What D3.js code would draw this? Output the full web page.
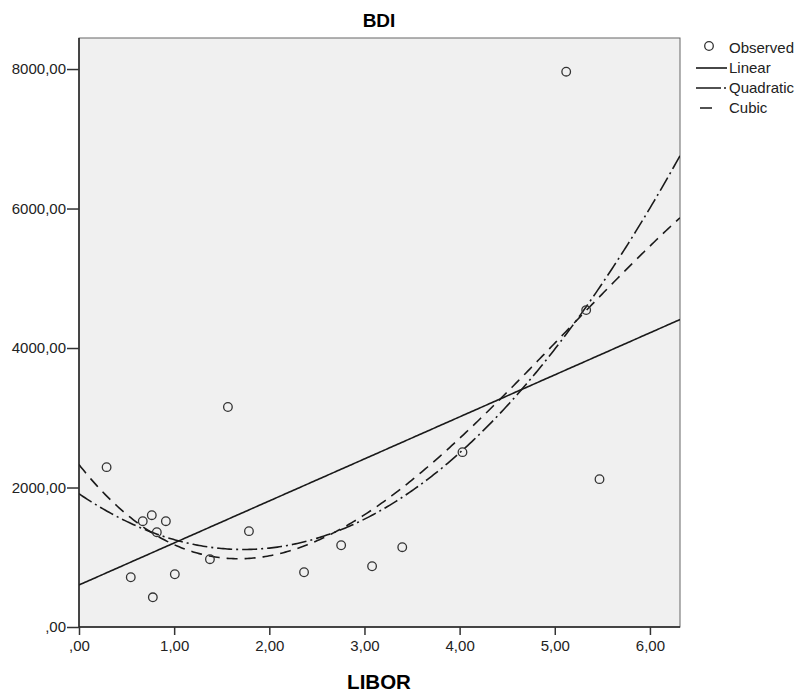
<!DOCTYPE html>
<html>
<head>
<meta charset="utf-8">
<script src="https://cdn.jsdelivr.net/npm/d3@7"></script>
<style>
body{margin:0;background:#fff;}
text{font-family:"Liberation Sans",Arial,sans-serif;}
</style>
</head>
<body>
<svg id="chart" width="799" height="692"></svg>
<script>
const libor = [0.29,0.544,0.67,0.765,0.776,0.818,0.913,1.007,1.376,1.565,1.786,2.365,2.755,3.08,3.397,4.03,5.12,5.33,5.47];
const bdi   = [2292,713,1517,1603,426,1359,1517,756,972,3154,1374,785,1172,871,1144,2507,7962,4544,2120];
const xTicks = [0,1,2,3,4,5,6];
const yTicks = [0,2000,4000,6000,8000];
const legendItems = ["Observed","Linear","Quadratic","Cubic"];

const svg = d3.select("#chart");
const L = 79, R = 680, T = 38, B = 627;
const x = d3.scaleLinear().domain([0, 6.316]).range([L, R]);
const y = d3.scaleLinear().domain([0, 8445]).range([B, T]);

const fmt = v => d3.format(".2f")(v).replace(".", ",").replace(/^0,/, ",");

// plot background
svg.append("rect").attr("x", L).attr("y", T).attr("width", R-L).attr("height", B-T)
  .attr("fill", "#f0f0f0").attr("stroke", "#666").attr("stroke-width", 1);

// Least squares polynomial fit
function polyfit(xs, ys, deg){
  const n = deg+1;
  const A = Array.from({length:n}, ()=>Array(n+1).fill(0));
  for(let k=0;k<xs.length;k++){
    for(let i=0;i<n;i++){
      for(let j=0;j<n;j++) A[i][j] += Math.pow(xs[k], i+j);
      A[i][n] += ys[k]*Math.pow(xs[k], i);
    }
  }
  for(let i=0;i<n;i++){
    let p=i; for(let r=i+1;r<n;r++) if(Math.abs(A[r][i])>Math.abs(A[p][i])) p=r;
    [A[i],A[p]]=[A[p],A[i]];
    for(let r=0;r<n;r++){ if(r===i) continue; const f=A[r][i]/A[i][i]; for(let c=i;c<=n;c++) A[r][c]-=f*A[i][c]; }
  }
  return A.map((row,i)=>row[n]/row[i]);
}
const evalPoly = (c, v) => c.reduce((s, ci, i) => s + ci*Math.pow(v, i), 0);

const fits = [
  {name:"Linear", coef: polyfit(libor, bdi, 1), dash: null},
  {name:"Quadratic", coef: polyfit(libor, bdi, 2), dash: "15,4,2,4"},
  {name:"Cubic", coef: polyfit(libor, bdi, 3), dash: "11,7"}
];

svg.append("clipPath").attr("id","clip").append("rect")
  .attr("x", L).attr("y", T).attr("width", R-L).attr("height", B-T);

const xs = d3.range(0, 6.316+1e-9, 6.316/300);
const line = d3.line().x(d=>x(d[0])).y(d=>y(d[1]));
const g = svg.append("g").attr("clip-path","url(#clip)");
fits.forEach(f=>{
  g.append("path").datum(xs.map(v=>[v, evalPoly(f.coef, v)]))
    .attr("d", line).attr("fill","none").attr("stroke","#1a1a1a").attr("stroke-width",1.6)
    .attr("stroke-dasharray", f.dash);
});

// points
g.selectAll("circle.obs").data(libor.map((v,i)=>[v,bdi[i]])).enter().append("circle")
  .attr("cx", d=>x(d[0])).attr("cy", d=>y(d[1])).attr("r", 4.3)
  .attr("fill","none").attr("stroke","#333").attr("stroke-width",1.3);

// axes
svg.append("line").attr("x1",L).attr("x2",L).attr("y1",T).attr("y2",B).attr("stroke","#222").attr("stroke-width",1.5);
svg.append("line").attr("x1",L).attr("x2",R).attr("y1",B).attr("y2",B).attr("stroke","#222").attr("stroke-width",1.5);

const xAxis = svg.append("g").attr("transform",`translate(0,${B})`)
  .call(d3.axisBottom(x).tickValues(xTicks).tickFormat(fmt).tickSize(8).tickPadding(5));
const yAxis = svg.append("g").attr("transform",`translate(${L},0)`)
  .call(d3.axisLeft(y).tickValues(yTicks).tickFormat(fmt).tickSize(12).tickPadding(1));
[xAxis, yAxis].forEach(a=>{
  a.select(".domain").remove();
  a.selectAll(".tick line").attr("stroke","#333").attr("stroke-width",1.5);
  a.selectAll(".tick text").attr("fill","#222").style("font-size","15px").style("font-family","'Liberation Sans',Arial,sans-serif");
});

// title and axis label
svg.append("text").attr("x", 379).attr("y", 27).attr("text-anchor","middle")
  .style("font-size","19px").style("font-weight","bold").text("BDI");
svg.append("text").attr("x", 379).attr("y", 689).attr("text-anchor","middle")
  .style("font-size","20.5px").style("font-weight","bold").text("LIBOR");

// legend
const lg = svg.append("g");
const rowsY = [48, 68, 88, 108];
legendItems.forEach((name,i)=>{
  const yy = rowsY[i];
  if(i===0){
    lg.append("circle").attr("cx",709).attr("cy",yy-2).attr("r",4.3).attr("fill","none").attr("stroke","#333").attr("stroke-width",1.3);
  } else if(i===1){
    lg.append("line").attr("x1",696).attr("x2",727).attr("y1",yy).attr("y2",yy).attr("stroke","#1a1a1a").attr("stroke-width",1.6);
  } else if(i===2){
    lg.append("line").attr("x1",696).attr("x2",727).attr("y1",yy).attr("y2",yy).attr("stroke","#1a1a1a").attr("stroke-width",1.6).attr("stroke-dasharray","25,3,2,10");
  } else {
    lg.append("line").attr("x1",696).attr("x2",727).attr("y1",yy).attr("y2",yy).attr("stroke","#1a1a1a").attr("stroke-width",1.6).attr("stroke-dasharray","0,4,12,20");
  }
  lg.append("text").attr("x",729).attr("y",yy+5).style("font-size","15px").attr("fill","#222").text(name);
});
</script>
</body>
</html>
